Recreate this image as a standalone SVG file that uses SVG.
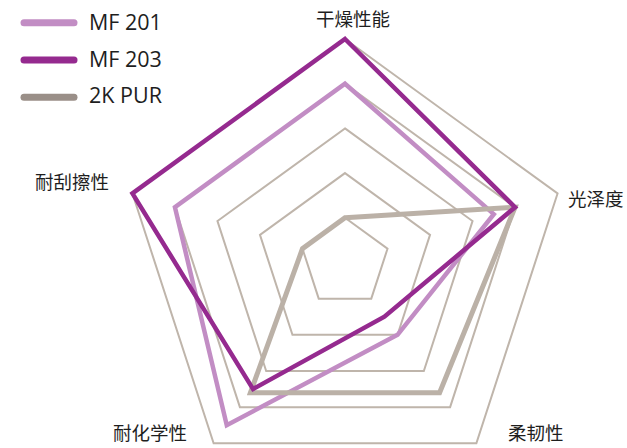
<svg xmlns="http://www.w3.org/2000/svg" width="627" height="448" viewBox="0 0 627 448">
<style>
.grid{fill:none;stroke:#bfb5ab;stroke-width:2;stroke-linejoin:miter}
.s{fill:none;stroke-width:4.5;stroke-linejoin:miter;stroke-miterlimit:10}
.mf201{stroke:#c28dc4}
.mf203{stroke:#952a8f}
.pur{stroke:#bbb1a7;stroke-width:5}
.lab{font-family:"Noto Sans CJK SC","Noto Sans",sans-serif;font-size:18.5px;fill:#1e1e1e}
.leg{font-family:"Open Sans","Liberation Sans",sans-serif;font-size:21.5px;fill:#1e1e1e}
.sw{stroke-width:7;stroke-linecap:round;fill:none}
</style>
<rect width="627" height="448" fill="#ffffff"/>
<g id="grid">
<polygon class="grid" points="345,217.8 387.51,248.69 371.27,298.66 318.73,298.66 302.49,248.69"/>
<polygon class="grid" points="345,173.1 430.03,234.88 397.55,334.83 292.45,334.83 259.97,234.88"/>
<polygon class="grid" points="345,128.4 472.54,221.06 423.82,370.99 266.18,370.99 217.46,221.06"/>
<polygon class="grid" points="345,83.7 515.06,207.25 450.10,407.15 239.90,407.15 174.94,207.25"/>
<polygon class="grid" points="345,39 557.57,193.44 476.37,443.31 213.63,443.31 132.43,193.44"/>
</g>
<g id="series">
<polygon id="s-mf201" class="s mf201" points="345,83.7 493.80,214.16 397.55,334.83 226.76,425.23 174.94,207.25"/>
<polygon id="s-2kpur" class="s pur" points="345,217.8 515.06,207.25 439.59,392.68 250.41,392.68 302.49,248.69"/>
<polygon id="s-mf203" class="s mf203" points="345,39 515.06,207.25 384.41,316.74 253.04,389.07 132.43,193.44"/>
</g>
<g id="axis-labels">
<text class="lab" x="316" y="25.5">干燥性能</text>
<text class="lab" x="568" y="205.5">光泽度</text>
<text class="lab" x="508" y="440">柔韧性</text>
<text class="lab" x="113" y="440">耐化学性</text>
<text class="lab" x="35" y="189">耐刮擦性</text>
</g>
<g id="legend">
<g id="leg-mf201">
<line class="sw" x1="24" y1="22.7" x2="74" y2="22.7" stroke="#c28dc4"/>
<text class="leg" x="89" y="30">MF 201</text>
</g>
<g id="leg-mf203">
<line class="sw" x1="24" y1="60" x2="74" y2="60" stroke="#952a8f"/>
<text class="leg" x="89" y="66.7">MF 203</text>
</g>
<g id="leg-2kpur">
<line class="sw" x1="24" y1="97.3" x2="74" y2="97.3" stroke="#9a8f88"/>
<text class="leg" x="89" y="103.3">2K PUR</text>
</g>
</g>
</svg>
